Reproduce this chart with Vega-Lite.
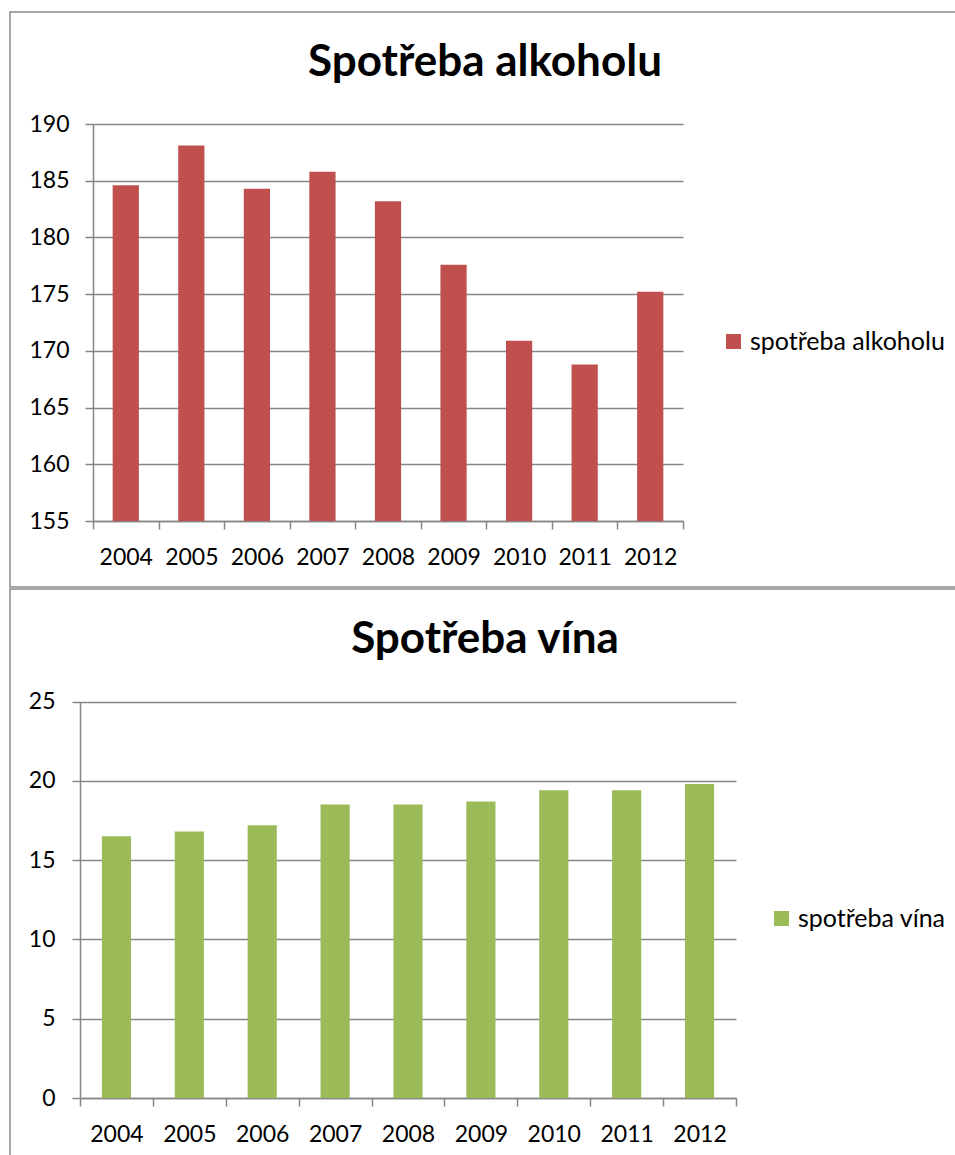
{
  "$schema": "https://vega.github.io/schema/vega-lite/v6.json",
  "padding": {"left": 9, "top": 11, "right": -4, "bottom": -8},
  "spacing": 0,
  "background": "white",
  "resolve": {"scale": {"color": "independent"}, "legend": {"color": "independent"}},
  "datasets": {
    "alkohol": [
      {"rok": "2004", "spotreba": 184.6, "rada": "spotřeba alkoholu"},
      {"rok": "2005", "spotreba": 188.1, "rada": "spotřeba alkoholu"},
      {"rok": "2006", "spotreba": 184.3, "rada": "spotřeba alkoholu"},
      {"rok": "2007", "spotreba": 185.8, "rada": "spotřeba alkoholu"},
      {"rok": "2008", "spotreba": 183.2, "rada": "spotřeba alkoholu"},
      {"rok": "2009", "spotreba": 177.6, "rada": "spotřeba alkoholu"},
      {"rok": "2010", "spotreba": 170.9, "rada": "spotřeba alkoholu"},
      {"rok": "2011", "spotreba": 168.8, "rada": "spotřeba alkoholu"},
      {"rok": "2012", "spotreba": 175.2, "rada": "spotřeba alkoholu"}
    ],
    "vino": [
      {"rok": "2004", "spotreba": 16.5, "rada": "spotřeba vína"},
      {"rok": "2005", "spotreba": 16.8, "rada": "spotřeba vína"},
      {"rok": "2006", "spotreba": 17.2, "rada": "spotřeba vína"},
      {"rok": "2007", "spotreba": 18.5, "rada": "spotřeba vína"},
      {"rok": "2008", "spotreba": 18.5, "rada": "spotřeba vína"},
      {"rok": "2009", "spotreba": 18.7, "rada": "spotřeba vína"},
      {"rok": "2010", "spotreba": 19.4, "rada": "spotřeba vína"},
      {"rok": "2011", "spotreba": 19.4, "rada": "spotřeba vína"},
      {"rok": "2012", "spotreba": 19.8, "rada": "spotřeba vína"}
    ]
  },
  "config": {
    "font": "Lato",
    "view": {"stroke": "#8a8a8a", "strokeWidth": 1.5},
    "concat": {"spacing": 0},
    "axis": {
      "domainColor": "#868686", "domainWidth": 1.5,
      "tickColor": "#868686", "tickWidth": 1.5, "tickSize": 8,
      "gridColor": "#868686", "gridWidth": 1.5, "gridOpacity": 1,
      "labelColor": "black", "labelFontSize": 23, "labelFont": "Lato",
      "title": null
    },
    "title": {"font": "Lato", "fontSize": 44, "fontWeight": "bold", "color": "black", "anchor": "middle", "baseline": "alphabetic", "offset": -73},
    "legend": {"labelFont": "Lato", "labelFontSize": 25, "labelColor": "black", "labelLimit": 400, "symbolType": "square", "symbolSize": 225, "symbolStrokeWidth": 0, "labelOffset": 4, "title": null}
  },
  "vconcat": [
    {
      "width": 950,
      "height": 575,
      "data": {"name": "alkohol"},
      "title": {"text": "Spotřeba alkoholu"},
      "mark": {"type": "bar", "width": {"band": 0.4}},
      "encoding": {
        "x": {
          "field": "rok", "type": "ordinal",
          "scale": {"range": [83, 673], "paddingInner": 0, "paddingOuter": 0},
          "axis": {"labelAngle": 0, "offset": -66, "tickBand": "extent", "grid": false, "labelPadding": 17}
        },
        "y": {
          "field": "spotreba", "type": "quantitative",
          "scale": {"domain": [155, 190], "range": [509, 112], "nice": false, "zero": false},
          "axis": {"values": [155, 160, 165, 170, 175, 180, 185, 190], "offset": -83, "grid": true, "labelPadding": 16}
        },
        "y2": {"datum": 155},
        "color": {
          "field": "rada", "type": "nominal",
          "scale": {"range": ["#C0504D"]},
          "legend": {"orient": "none", "legendX": 711, "legendY": 317}
        }
      }
    },
    {
      "width": 950,
      "height": 577,
      "data": {"name": "vino"},
      "title": {"text": "Spotřeba vína"},
      "mark": {"type": "bar", "width": {"band": 0.4}},
      "encoding": {
        "x": {
          "field": "rok", "type": "ordinal",
          "scale": {"range": [70, 726], "paddingInner": 0, "paddingOuter": 0},
          "axis": {"labelAngle": 0, "offset": -68, "tickBand": "extent", "grid": false, "labelPadding": 17}
        },
        "y": {
          "field": "spotreba", "type": "quantitative",
          "scale": {"domain": [0, 25], "range": [509, 112.5], "nice": false},
          "axis": {"values": [0, 5, 10, 15, 20, 25], "offset": -70, "grid": true, "labelPadding": 17}
        },
        "y2": {"datum": 0},
        "color": {
          "field": "rada", "type": "nominal",
          "scale": {"range": ["#9BBB59"]},
          "legend": {"orient": "none", "legendX": 759, "legendY": 317}
        }
      }
    }
  ]
}
